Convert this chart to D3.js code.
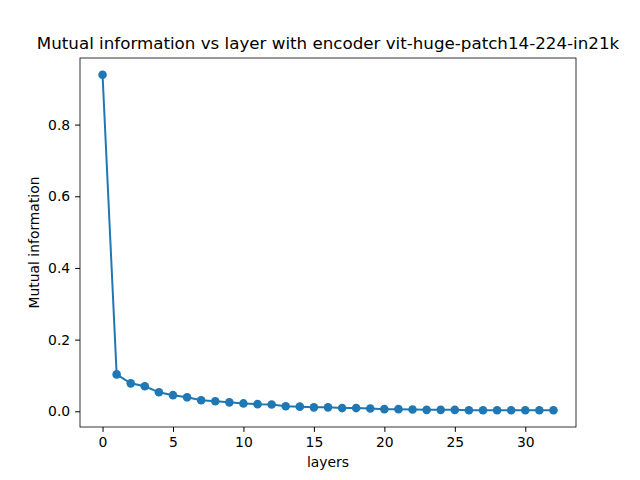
<!DOCTYPE html>
<html><head><meta charset="utf-8">
<script src="https://cdn.jsdelivr.net/npm/d3@7"></script>
<style>body{margin:0;background:#fff}text{font-family:"DejaVu Sans",sans-serif}</style>
</head><body>
<svg id="c" width="640" height="480"></svg>
<script>
const layers = d3.range(0, 33);
const mutualInfo = [0.939,0.103,0.078,0.070,0.053,0.045,0.039,0.031,0.028,0.025,0.022,0.020,0.019,0.014,0.013,0.011,0.011,0.009,0.009,0.008,0.006,0.006,0.005,0.004,0.004,0.004,0.003,0.003,0.003,0.003,0.003,0.003,0.003];
const xTicks = [0,5,10,15,20,25,30];
const yTicks = [0.0,0.2,0.4,0.6,0.8];
const L=80,R=576,T=58,B=427;
const svg=d3.select("#c");
const x=d3.scaleLinear().domain([-1.6,33.6]).range([L,R]);
const y=d3.scaleLinear().domain([-0.0438,0.9858]).range([B,T]);
const col="#1f77b4";
svg.append("path").datum(layers.map((l,i)=>[l,mutualInfo[i]]))
 .attr("fill","none").attr("stroke",col).attr("stroke-width",2)
 .attr("d",d3.line().x(d=>x(d[0])).y(d=>y(d[1])));
svg.selectAll("circle.p").data(layers).join("circle").attr("cx",d=>x(d)).attr("cy",(d,i)=>y(mutualInfo[i])).attr("r",4.3).attr("fill",col);
const xa=svg.append("g").attr("transform",`translate(0,${B})`).call(d3.axisBottom(x).tickValues(xTicks).tickFormat(d3.format("d")).tickSize(4.9).tickPadding(4.9));
const ya=svg.append("g").attr("transform",`translate(${L},0)`).call(d3.axisLeft(y).tickValues(yTicks).tickFormat(d3.format(".1f")).tickSize(4.9).tickPadding(4.9));
[xa,ya].forEach(a=>{a.select(".domain").remove();a.selectAll("text").attr("font-size",13.9).attr("fill","#000").style("font-family","DejaVu Sans");a.selectAll("line").attr("stroke","#000");});
svg.append("rect").attr("x",L).attr("y",T).attr("width",R-L).attr("height",B-T).attr("fill","none").attr("stroke","#000").attr("stroke-width",0.8);
svg.append("text").attr("x",(L+R)/2).attr("y",467).attr("text-anchor","middle").attr("font-size",13.9).text("layers");
svg.append("text").attr("transform",`translate(39,${(T+B)/2}) rotate(-90)`).attr("text-anchor","middle").attr("font-size",13.9).text("Mutual information");
svg.append("text").attr("x",(L+R)/2).attr("y",49).attr("text-anchor","middle").attr("font-size",16.7).text("Mutual information vs layer with encoder vit-huge-patch14-224-in21k");
</script></body></html>
